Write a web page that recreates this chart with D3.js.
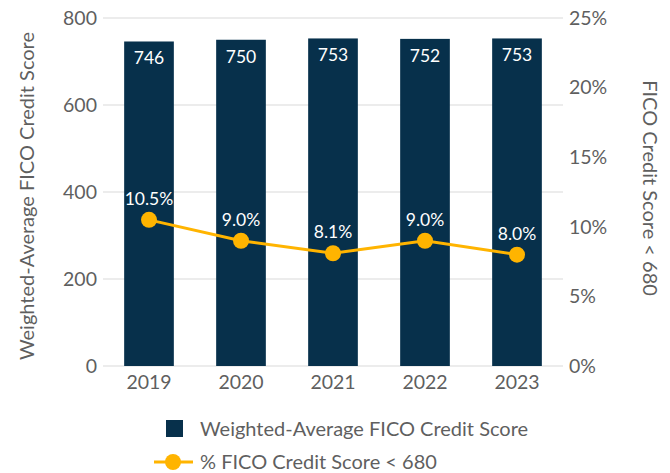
<!DOCTYPE html>
<html>
<head>
<meta charset="utf-8">
<script src="https://cdn.jsdelivr.net/npm/d3@7"></script>
<style>
  body { margin: 0; background: #fff; }
  text { font-family: "Source Sans Pro", Lato, "Open Sans", sans-serif; font-weight: 400; }
</style>
</head>
<body>
<div id="chart"></div>
<script>
// data
const years = ["2019", "2020", "2021", "2022", "2023"];
const avgScore = [746, 750, 753, 752, 753];
const pctBelow680 = [10.5, 9.0, 8.1, 9.0, 8.0];
const leftTicks = [0, 200, 400, 600, 800];
const rightTicks = [0, 5, 10, 15, 20, 25];

const width = 670, height = 473;
const plotLeft = 103, plotRight = 563, plotTop = 18, plotBottom = 366;
const navy = "#07304b", gold = "#ffb400", grey = "#5f5f5f";

const svg = d3.select("#chart").append("svg")
  .attr("width", width).attr("height", height);

const x = d3.scaleBand().domain(years).range([plotLeft, plotRight])
  .paddingInner(0.46).paddingOuter(0.23);
const y = d3.scaleLinear().domain([0, 800]).range([plotBottom, plotTop]);
const y2 = d3.scaleLinear().domain([0, 25]).range([plotBottom, plotTop]);

// grid lines
svg.append("g").selectAll("line").data(leftTicks).join("line")
  .attr("x1", plotLeft).attr("x2", plotRight)
  .attr("y1", d => y(d)).attr("y2", d => y(d))
  .attr("stroke", "#d9d9d9").attr("stroke-width", 1);

// left axis
svg.append("g").selectAll("text").data(leftTicks).join("text")
  .attr("x", plotLeft - 6).attr("y", d => y(d)).attr("dy", "0.35em")
  .attr("text-anchor", "end").attr("font-size", 19.5).attr("fill", grey)
  .text(d => d);

// right axis
svg.append("g").selectAll("text").data(rightTicks).join("text")
  .attr("x", plotRight + 6).attr("y", d => y2(d)).attr("dy", "0.35em")
  .attr("text-anchor", "start").attr("font-size", 19.5).attr("fill", grey)
  .text(d => d + "%");

// x axis labels
svg.append("g").selectAll("text").data(years).join("text")
  .attr("x", d => x(d) + x.bandwidth() / 2).attr("y", plotBottom + 23)
  .attr("text-anchor", "middle").attr("font-size", 19.5).attr("fill", grey)
  .text(d => d);

// axis titles
svg.append("text")
  .attr("transform", `translate(34,${(plotTop + plotBottom) / 2 + 4}) rotate(-90)`)
  .attr("text-anchor", "middle").attr("font-size", 20).attr("fill", grey)
  .text("Weighted-Average FICO Credit Score");
svg.append("text")
  .attr("transform", `translate(643,${(plotTop + plotBottom) / 2 - 4}) rotate(90)`)
  .attr("text-anchor", "middle").attr("font-size", 20).attr("fill", grey)
  .text("FICO Credit Score < 680");

// bars
svg.append("g").selectAll("rect").data(years).join("rect")
  .attr("x", d => x(d)).attr("width", x.bandwidth())
  .attr("y", (d, i) => y(avgScore[i]))
  .attr("height", (d, i) => plotBottom - y(avgScore[i]))
  .attr("fill", navy);

svg.append("g").selectAll("text").data(years).join("text")
  .attr("x", d => x(d) + x.bandwidth() / 2)
  .attr("y", (d, i) => y(avgScore[i]) + 23)
  .attr("text-anchor", "middle").attr("font-size", 17.5).attr("fill", "#fff")
  .text((d, i) => avgScore[i]);

// line
const cx = d => x(d) + x.bandwidth() / 2;
const line = d3.line().x(d => cx(d)).y((d, i) => y2(pctBelow680[i]));
svg.append("path").datum(years)
  .attr("d", line).attr("fill", "none")
  .attr("stroke", gold).attr("stroke-width", 3);

svg.append("g").selectAll("circle").data(years).join("circle")
  .attr("cx", cx).attr("cy", (d, i) => y2(pctBelow680[i]))
  .attr("r", 8).attr("fill", gold);

svg.append("g").selectAll("text").data(years).join("text")
  .attr("x", cx).attr("y", (d, i) => y2(pctBelow680[i]) - 15)
  .attr("text-anchor", "middle").attr("font-size", 17.5).attr("fill", "#fff")
  .text((d, i) => pctBelow680[i].toFixed(1) + "%");

// legend
const lg = svg.append("g");
lg.append("rect").attr("x", 166).attr("y", 420).attr("width", 17).attr("height", 17).attr("fill", navy);
lg.append("text").attr("x", 200).attr("y", 436).attr("font-size", 20).attr("fill", grey)
  .text("Weighted-Average FICO Credit Score");
lg.append("line").attr("x1", 154).attr("x2", 193).attr("y1", 462).attr("y2", 462)
  .attr("stroke", gold).attr("stroke-width", 3);
lg.append("circle").attr("cx", 173).attr("cy", 462).attr("r", 8).attr("fill", gold);
lg.append("text").attr("x", 200).attr("y", 469).attr("font-size", 20).attr("fill", grey)
  .text("% FICO Credit Score < 680");
</script>
</body>
</html>
